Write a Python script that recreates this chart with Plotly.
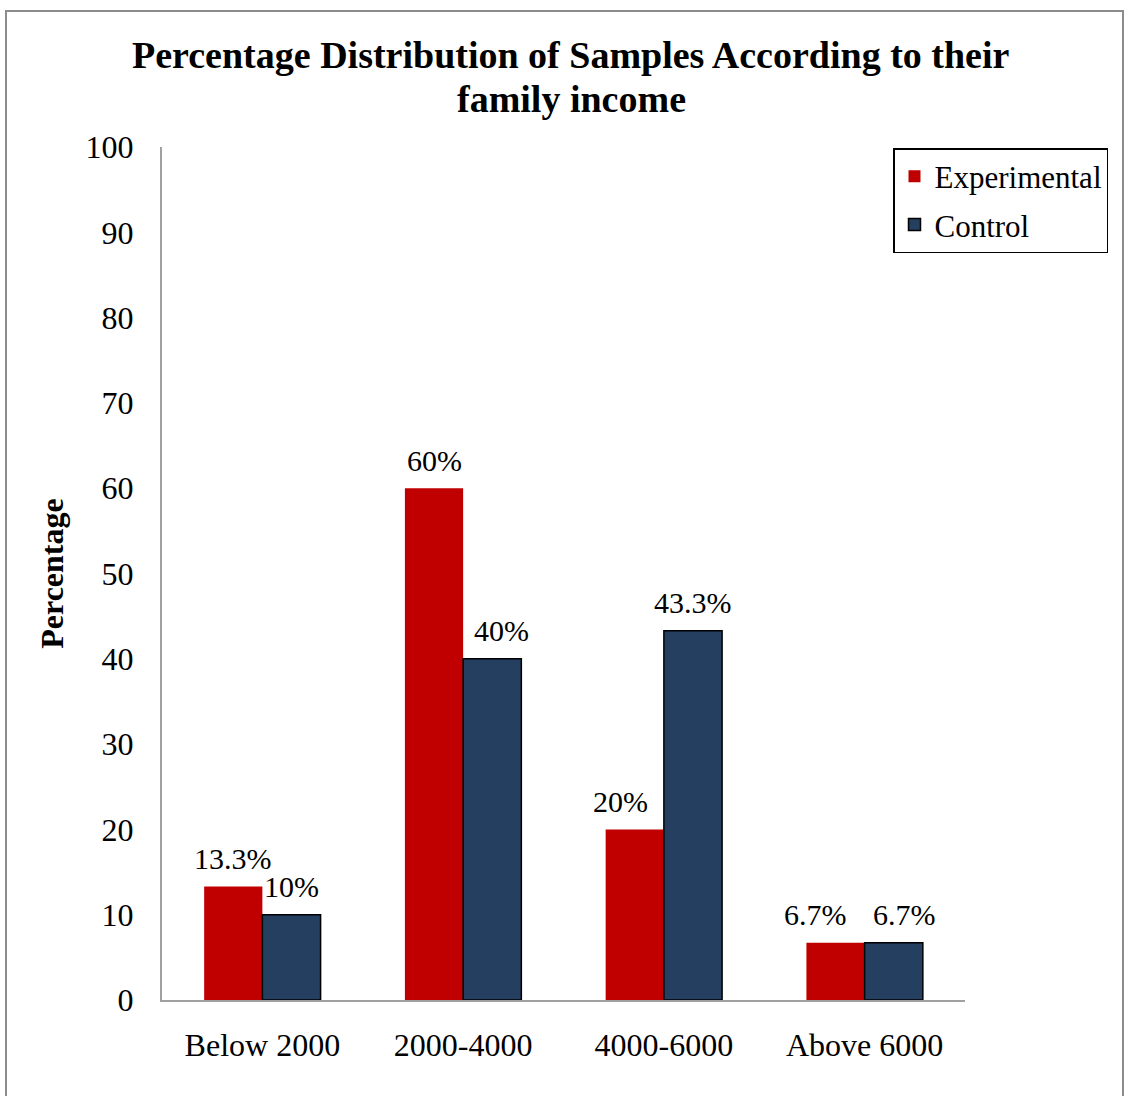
import plotly.graph_objects as go

categories = ["Below 2000", "2000-4000", "4000-6000", "Above 6000"]
experimental = [13.3, 60, 20, 6.7]
control = [10, 40, 43.3, 6.7]
experimental_labels = ["13.3%", "60%", "20%", "6.7%"]
control_labels = ["10%", "40%", "43.3%", "6.7%"]
y_ticks = [0, 10, 20, 30, 40, 50, 60, 70, 80, 90, 100]
title_lines = ["Percentage Distribution of Samples According to their", "family income"]

# label nudges (pixels) relative to each bar centre, as placed in the original
exp_label_nudge = [0, 0, -14, -20]
ctl_label_nudge = [0, 9, 0, 11]

FONT = "Liberation Serif, Times New Roman, serif"
W, H = 1125, 1096
L, R, T, B = 162, 160, 147, 96
pw, ph = W - L - R, H - T - B
HALF_BAR = 29

def px_x(x):
    return (x - L) / pw

def px_y(y):
    return (H - B - y) / ph

fig = go.Figure()
fig.add_trace(go.Bar(
    x=categories, y=experimental, name="Experimental", legendgroup="e",
    marker=dict(color="#C00000", line=dict(width=0)),
))
fig.add_trace(go.Bar(
    x=categories, y=control, name="Control", legendgroup="c",
    marker=dict(color="#243F60", line=dict(color="black", width=1.5)),
))

annotations = []
for cat, val, lab, nd in zip(categories, experimental, experimental_labels, exp_label_nudge):
    annotations.append(dict(x=cat, y=val, xref="x", yref="y", text=lab, showarrow=False,
                            xshift=-HALF_BAR + nd, yshift=28, yanchor="middle",
                            font=dict(family=FONT, size=30, color="black")))
for cat, val, lab, nd in zip(categories, control, control_labels, ctl_label_nudge):
    annotations.append(dict(x=cat, y=val, xref="x", yref="y", text=lab, showarrow=False,
                            xshift=HALF_BAR + nd, yshift=28, yanchor="middle",
                            font=dict(family=FONT, size=30, color="black")))
for line, ypx in zip(title_lines, [55, 99]):
    annotations.append(dict(x=px_x(571), y=px_y(ypx), xref="paper", yref="paper",
                            text="<b>" + line + "</b>", showarrow=False,
                            xanchor="center", yanchor="middle",
                            font=dict(family=FONT, size=38, color="black")))

fig.update_layout(
    width=W, height=H,
    margin=dict(l=L, r=R, t=T, b=B),
    paper_bgcolor="white", plot_bgcolor="white",
    barmode="group", bargap=0.42, bargroupgap=0,
    font=dict(family=FONT, size=32, color="black"),
    showlegend=True,
    legend=dict(
        x=px_x(893), y=px_y(148), xanchor="left", yanchor="top",
        bordercolor="black", borderwidth=1.5, bgcolor="white",
        font=dict(family=FONT, size=31, color="black"),
        itemwidth=30, traceorder="grouped", tracegroupgap=5,
    ),
    xaxis=dict(
        showline=True, linecolor="#A0A0A0", linewidth=2,
        ticks="", showgrid=False, tickfont=dict(family=FONT, size=32),
        ticklabelstandoff=16,
    ),
    yaxis=dict(
        range=[0, 100], tickvals=y_ticks, showline=True, linecolor="#A0A0A0",
        linewidth=2, ticks="", showgrid=False, zeroline=False,
        tickfont=dict(family=FONT, size=32), ticklabelstandoff=20,
        title=dict(text="<b>Percentage</b>", font=dict(family=FONT, size=32), standoff=12),
    ),
    annotations=annotations,
    shapes=[dict(
        type="rect", xref="paper", yref="paper",
        x0=px_x(6), x1=px_x(1123), y0=px_y(1110), y1=px_y(11),
        line=dict(color="#8C8C8C", width=2), fillcolor="rgba(0,0,0,0)", layer="below",
    )],
)

fig.write_html("out.html")
